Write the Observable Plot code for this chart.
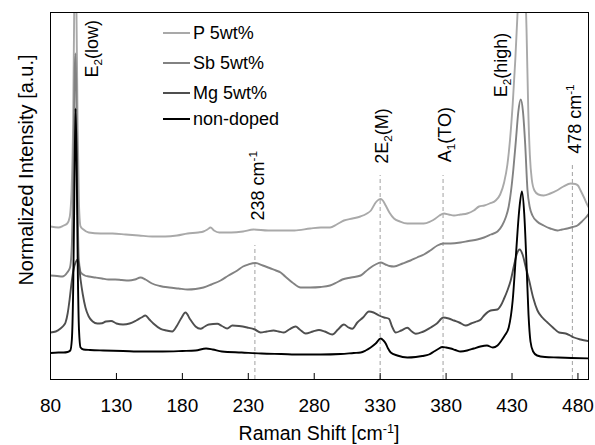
<!DOCTYPE html>
<html><head><meta charset="utf-8">
<script src="https://cdn.jsdelivr.net/npm/d3@7"></script>
<script src="https://cdn.jsdelivr.net/npm/@observablehq/plot@0.6"></script>
<style>
body{margin:0;background:#fff}
svg{font-family:"Liberation Sans",Arial,Helvetica,sans-serif}
</style>
</head><body><div id="chart"></div>
<script>
// ---- data (x: Raman shift cm^-1, y: normalized intensity with offsets, a.u.) ----
const seriesNames = ["P 5wt%", "Sb 5wt%", "Mg 5wt%", "non-doped"];
const seriesColors = ["#a9a9a9", "#828282", "#4f4f4f", "#000000"];

const pData = [[80,153],[86,152],[90,154],[92.7,156],[94.5,162],[96,190],[97.2,260],[98.2,400],[98.8,440],[99.6,380],[100.6,250],[101.6,175],[102.8,153],[105,150],[109,147],[118,146],[127,146],[137,145],[147,144],[157,143],[167,143],[176,144],[184,146],[192,147],[196,148],[199,150],[201.4,152],[204,149],[208,147],[217,147],[226,148],[234,150],[245,149],[255,149],[265,149],[277,151],[285,152],[292,152],[297,155],[302.5,159],[309,161],[315,163],[320,166],[323,169],[326.6,177],[329,180],[330.5,180.5],[332,179],[334.2,174],[337,167],[340.5,161],[345,158],[350.6,156],[357,156],[363,156],[368,158],[372,161],[375,164],[378.4,166],[382,165],[386,164],[391,165],[396,166],[401,169],[405,173],[409,174],[413,176],[417.6,179],[421,185],[424,197],[426.5,215],[428.5,240],[430.5,275],[432.5,320],[434.5,375],[436.5,420],[438,430],[439.5,410],[441,350],[442.3,270],[443.5,225],[445,200],[447,189],[450,185],[454,184],[459,186],[464,189],[469,193],[474.5,196],[478,195.5],[480,194],[482,189],[484.6,182],[487,175],[490,168]];

const sbData = [[80,104],[85,103.5],[89,103],[92.7,107],[94.8,112],[96.2,135],[97.4,220],[98.4,310],[98.9,326],[99.6,290],[100.4,190],[101.5,120],[103,107],[106,104],[109,103],[114,102],[119,101],[124,100],[129,100],[134,99.5],[139.4,99],[144,100],[148.3,102],[152,100],[157,96],[163,93.5],[170,92],[177,91],[184,90],[190,90.5],[196,92],[202,95],[209,99],[215,104],[221.7,109],[226,113],[230,115],[235.5,116.5],[241,114],[247,111],[251,109],[254.5,107],[258,103],[263.4,97],[269.7,92],[277,92],[285,92.5],[292,94],[297,97],[301.3,100],[308,102],[315.2,104],[319,108],[322.8,112],[326.5,115],[330.4,117],[334,115],[337,113.5],[340.5,113],[347,116],[353,119],[358,122],[363.2,125],[368,129],[373.4,134],[378,136],[383.5,136],[391,137],[397,138.5],[403.7,140],[408.8,142],[414,145],[419,148],[422.5,154],[425.2,162],[427.5,173],[429.2,188],[431,210],[433,240],[434.8,268],[436.6,280],[438.3,268],[440,235],[441.7,190],[443.5,172],[445.5,164],[449,158],[454,154],[459,151],[464.4,149],[468,150],[472,151],[476,152.5],[479.6,154],[483,158],[486,162],[490,169]];

const mgData = [[80,47],[84,48],[87.6,51],[90,54],[91.4,57],[93,66],[94.5,80],[96,97],[97.5,110],[99,117],[100.5,120],[101.5,115],[102.8,100],[104.5,85],[106.5,72],[109,63],[112,58],[115.5,56],[119,56.3],[122,58],[126,58.5],[130,56],[135,55],[140,56],[145,59],[149,62],[152,64],[155,60],[158,56],[163.5,50.7],[168,49],[172.3,48],[176,54],[179,61],[182.4,67],[186,60],[190,53],[193.8,50.7],[197,53],[200.1,55],[206.5,55.7],[210,53.5],[214,51],[217.9,54],[223,53.5],[229.2,52],[235,50],[239.3,47],[244,48],[249.2,49],[253,48],[257,47],[261,50],[265.9,53],[269,50],[273.5,46],[279,48],[283.6,49.5],[288,48],[293.7,45],[298,50],[302.5,55],[306,52],[308.9,50.7],[312.7,57],[317,62],[321.5,68],[325,67],[329.1,64],[333,62],[336.7,60.7],[339,53],[341.8,47],[346,49],[350.6,51.7],[354,48],[357,45.7],[362,47.5],[368.3,52],[373,56],[377.9,62],[382,61],[386,59],[390,57],[394.9,54],[399,56],[403,58],[406.3,60],[408.8,64],[413.8,69],[418.9,70],[421.5,74],[424,81],[426.5,89],[429,99],[431.5,114],[433.5,125],[435.8,130],[438,125],[440.3,113],[443,99],[446,82],[449.3,69],[453,62],[456.9,57],[461,52],[465.7,47],[470.7,46],[474,44],[477,42],[482,40],[490,38]];

const ndData = [[80,26.5],[86,27],[90,27],[93,27.5],[95,29],[96.2,40],[97.2,90],[98.2,200],[99,271],[99.8,220],[100.7,110],[101.6,50],[102.8,32],[105,30],[110,29.5],[120,29],[135,28.5],[150,28],[165,28],[180,28.5],[190,29],[198,31],[203,30],[210,28],[225,27],[240,26],[255,25.5],[270,25],[285,25],[300,25.5],[310,26.5],[315.2,27],[319,29],[322.8,32],[326.6,36],[330.4,41],[332.5,39],[334.2,36],[336,31],[338,27],[343,24],[350.6,22],[357,22.5],[362,23.5],[367,25],[370.8,28],[374,30.5],[377.2,32.5],[380,32],[383.5,31],[387,29.5],[391,28],[396,29],[401,31],[406,33],[411,34],[415.4,32],[419,34],[422,39],[424.5,44],[427.5,52],[430.5,79],[433,125],[435.5,170],[437.5,188],[439.3,165],[441,115],[442.5,65],[444,38],[446,28],[449,24],[455,22.5],[465,22],[475,21.5],[490,21]];

const xTicks = [80, 130, 180, 230, 280, 330, 380, 430, 480];

// dashed reference lines: wavenumber and top of dashed line (a.u.)
const peakLinePos = [235, 330, 377.7, 475.8];
const peakLineTop = [134, 204, 204, 216];

// peak annotations (rotated): text, x, y where the text begins
const peakLabelText = ["E_2(low)", "238 cm^-1", "2E_2(M)", "A_1(TO)", "E_2(high)", "478 cm^-1"];
const peakLabelX = [111.8, 237.4, 331.5, 379.2, 421.6, 477.7];
const peakLabelY = [302, 159, 215.7, 217.3, 282.3, 225.7];

// ---- build tables ----
const allSeries = [pData, sbData, mgData, ndData];
const rows = [];
allSeries.forEach((arr, i) => arr.forEach(([x, y]) => rows.push({series: seriesNames[i], x, y})));
const lines = peakLinePos.map((x, i) => ({x, top: peakLineTop[i]}));
const labels = peakLabelText.map((t, i) => ({t, x: peakLabelX[i], y: peakLabelY[i]}));

const W = 595, H = 445, mL = 50, mR = 7, mT = 12, mB = 66;
const frameH = H - mT - mB;

const plot = Plot.plot({
  width: W, height: H,
  marginLeft: mL, marginRight: mR, marginTop: mT, marginBottom: mB,
  style: {background: "white", fontFamily: '"Liberation Sans", Arial, sans-serif', color: "black"},
  x: {domain: [80, 488]},
  y: {domain: [0, 367], axis: null},
  color: {domain: seriesNames, range: seriesColors},
  marks: [
    Plot.ruleX(lines, {x: "x", y1: 0, y2: "top", stroke: "#aaaaaa", strokeWidth: 1.1, strokeDasharray: "4,3"}),
    Plot.line(rows, {x: "x", y: "y", z: "series", stroke: "series", strokeWidth: 1.9, curve: "monotone-x", clip: true}),
    Plot.text(labels, {x: "x", y: "y", text: "t", rotate: -90, textAnchor: "start", lineAnchor: "middle", fontSize: 18, fill: "black"}),
    Plot.ruleX(xTicks, {insetTop: frameH - 6, stroke: "black", strokeWidth: 1}),
    Plot.axisX(xTicks, {tickSize: 0, tickPadding: 19, fontSize: 19, label: null, fill: "black"}),
    Plot.frame({stroke: "black", strokeWidth: 1})
  ]
});

document.getElementById("chart").appendChild(plot);

// rich text helper: "_x" -> subscript, "^x" -> superscript
function richText(textEl, s, fs) {
  textEl.textContent = "";
  const re = /([_^])(-?\d)/g;
  let last = 0, m;
  const ns = "http://www.w3.org/2000/svg";
  let shift = 0;
  function add(str, size, targetShift) {
    const ts = document.createElementNS(ns, "tspan");
    ts.textContent = str;
    if (size) ts.setAttribute("font-size", size);
    const d = targetShift - shift;
    if (d !== 0) ts.setAttribute("dy", d);
    shift = targetShift;
    textEl.appendChild(ts);
  }
  while ((m = re.exec(s))) {
    if (m.index > last) add(s.slice(last, m.index), null, 0);
    if (m[1] === "_") add(m[2], fs * 0.65, fs * 0.22);
    else add(m[2], fs * 0.65, -fs * 0.38);
    last = re.lastIndex;
  }
  if (last < s.length) add(s.slice(last), null, 0);
}

const svg = d3.select(plot);
svg.selectAll("text").each(function() {
  const s = this.textContent;
  if (/[_^]/.test(s)) richText(this, s, 18);
});

// axis titles
const xt = svg.append("text").attr("x", (mL + W - mR) / 2).attr("y", 440)
  .attr("text-anchor", "middle").attr("font-size", 19.5).attr("fill", "black");
richText(xt.node(), "Raman Shift [cm^-1]", 19.5);

svg.append("text").attr("transform", "translate(33,170) rotate(-90)")
  .attr("text-anchor", "middle").attr("font-size", 20).attr("fill", "black")
  .text("Normalized Intensity [a.u.]");

// legend
const legendRows = [33, 63, 93, 119];
const lg = svg.append("g").attr("text-anchor", "start");
seriesNames.forEach((name, i) => {
  lg.append("line").attr("x1", 163).attr("x2", 190).attr("y1", legendRows[i]).attr("y2", legendRows[i])
    .attr("stroke", seriesColors[i]).attr("stroke-width", 2);
  lg.append("text").attr("x", 193).attr("y", legendRows[i]).attr("dy", "0.35em")
    .attr("text-anchor", "start").attr("font-size", 18).attr("fill", "black").text(name);
});
</script>
</body></html>
